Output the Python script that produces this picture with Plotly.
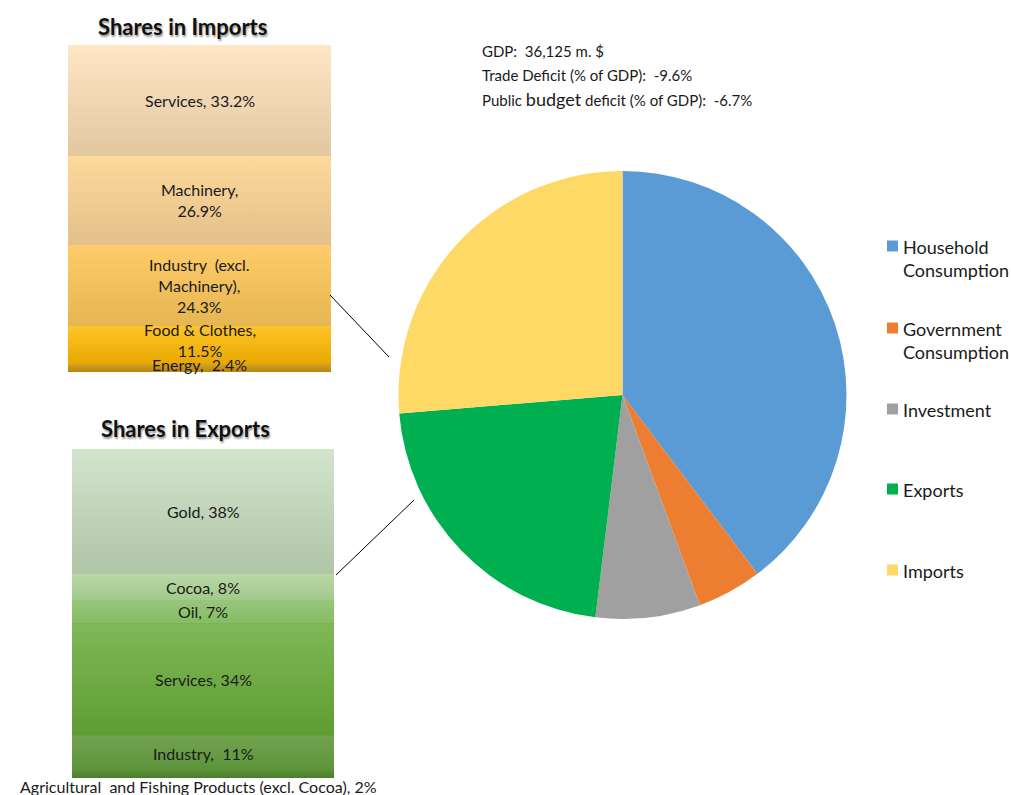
import plotly.graph_objects as go
import numpy as np

# ---------------- data ----------------
pie_labels = ["Household Consumption", "Government Consumption", "Investment", "Exports", "Imports"]
pie_legend_text = ["Household<br>Consumption", "Government<br>Consumption", "Investment", "Exports", "Imports"]
pie_values = [30275, 3560, 5760, 16590, 20060]  # million $
pie_colors = ["#5B9BD5", "#ED7D31", "#A0A0A0", "#00B050", "#FFD966"]

# imports breakdown (bottom -> top)
imp_names = ["Energy", "Food & Clothes", "Industry  (excl.<br>Machinery)", "Machinery", "Services"]
imp_seps = [",  ", ",<br>", ",<br>", ",<br>", ", "]
imp_shares = [2.4, 11.5, 24.3, 26.9, 33.2]
imp_top = ["#D4A125", "#FDC52A", "#FECC6A", "#FED99C", "#FFE6C6"]
imp_bot = ["#B8860F", "#E9A800", "#E6B652", "#E3C08A", "#E2C8A0"]

# exports breakdown (bottom -> top)
exp_names = ["Agricultural  and Fishing Products (excl. Cocoa)", "Industry", "Services", "Oil", "Cocoa",
             "Gold"]
exp_seps = [", ", ",  ", ", ", ", ", ", ", ", "]
exp_shares = [2, 11, 34, 7, 8, 38]
exp_top = ["#568E33", "#72A34F", "#80B858", "#98C67B", "#B8D8A5", "#D3E4CD"]
exp_bot = ["#4B7E2A", "#5C933A", "#5E9D32", "#86BC63", "#A2C98C", "#B0C4A6"]

info_lines = ["GDP:  36,125 m. $",
              "Trade Deficit (% of GDP):  -9.6%",
              "Public <span style='font-size:18px'>budget</span> deficit (% of GDP):  -6.7%"]

FONT = "Lato"
TXT = "#1a1a1a"

fig = go.Figure()

# ---------------- pie ----------------
W, H = 1011, 795
cx, cy, r = 622.5, 395, 224
fig.add_trace(go.Pie(
    labels=pie_labels, values=pie_values, sort=False, direction="clockwise", rotation=0,
    marker=dict(colors=pie_colors, line=dict(width=0)),
    textinfo="none", showlegend=False,
    domain=dict(x=[(cx - r) / W, (cx + r) / W], y=[(H - cy - r) / H, (H - cy + r) / H]),
))


def stacked(names, shares, tops, bots, xa, ya):
    base = np.concatenate([[0], np.cumsum(shares)[:-1]])
    for n, v, b, ct, cb in zip(names, shares, base, tops, bots):
        fig.add_trace(go.Bar(x=[0], y=[v], base=[b], width=1, marker=dict(color=cb, line=dict(width=0)),
                             xaxis=xa, yaxis=ya, showlegend=False, hoverinfo="skip"))
        # gradient overlay of the same segment
        fig.add_trace(go.Scatter(x=[-0.5, 0.5, 0.5, -0.5, -0.5], y=[b, b, b + v, b + v, b],
                                 mode="lines", line=dict(width=0), fill="toself",
                                 fillgradient=dict(type="vertical", colorscale=[[0, cb], [1, ct]]),
                                 xaxis=xa, yaxis=ya, showlegend=False, hoverinfo="skip"))
    return base


ib = stacked(imp_names, imp_shares, imp_top, imp_bot, "x", "y")
eb = stacked(exp_names, exp_shares, exp_top, exp_bot, "x2", "y2")

ann = []
for i, (n, s, v, b) in enumerate(zip(imp_names, imp_seps, imp_shares, ib)):
    a = dict(x=0, y=b + v / 2, xref="x", yref="y", text=f"{n}{s}{v:.1f}%", showarrow=False,
             xanchor="center", yanchor="middle", font=dict(family=FONT, size=16, color=TXT))
    if i == 1:
        a.update(yshift=5)
    if i == 0:
        a.update(yshift=4)
    ann.append(a)
for i, (n, s, v, b) in enumerate(zip(exp_names, exp_seps, exp_shares, eb)):
    a = dict(x=0, y=b + v / 2, xref="x2", yref="y2", text=f"{n}{s}{v}%", showarrow=False,
             xanchor="center", yanchor="middle", font=dict(family=FONT, size=16, color=TXT))
    if i == 0:
        a.update(yshift=-12, xshift=-5)
    ann.append(a)

# titles
for t, xx, yy in [("Shares in Imports", 182, 27), ("Shares in Exports", 185, 428)]:
    ann.append(dict(x=xx / W, y=1 - yy / H, xref="paper", yref="paper", text=f"<b>{t}</b>",
                    xanchor="center", yanchor="middle", showarrow=False,
                    font=dict(family=FONT, size=22, color="#111", shadow="1px 2px 2px #999")))

# info text
for k, t in enumerate(info_lines):
    ann.append(dict(x=480 / W, y=1 - (51 + 24 * k) / H, xref="paper", yref="paper", text=t, xanchor="left",
                    yanchor="middle", showarrow=False, font=dict(family=FONT, size=15, color=TXT)))

# manual legend
shapes = []
leg_y = [246, 328, 409, 489, 570]
for t, c, yy in zip(pie_legend_text, pie_colors, leg_y):
    shapes.append(dict(type="rect", xref="paper", yref="paper", x0=887 / W, x1=898 / W,
                       y0=1 - (yy + 5.5) / H, y1=1 - (yy - 5.5) / H, fillcolor=c, line=dict(width=0)))
    ann.append(dict(x=901 / W, y=1 - (yy - 12) / H, xref="paper", yref="paper", text=t, xanchor="left",
                    yanchor="top", align="left", showarrow=False, font=dict(family=FONT, size=18, color=TXT)))

# connector lines
shapes.append(dict(type="line", xref="paper", yref="paper", x0=330 / W, y0=1 - 295 / H, x1=389 / W, y1=1 - 357 / H,
                   line=dict(color="#000", width=1)))
shapes.append(dict(type="line", xref="paper", yref="paper", x0=336 / W, y0=1 - 575 / H, x1=414 / W, y1=1 - 500 / H,
                   line=dict(color="#000", width=1)))

ax_hidden = dict(visible=False, showgrid=False, zeroline=False, fixedrange=True)
fig.update_layout(
    width=W, height=H, margin=dict(l=0, r=0, t=0, b=0),
    paper_bgcolor="white", plot_bgcolor="rgba(0,0,0,0)",
    barmode="stack", showlegend=False,
    xaxis=dict(domain=[68 / W, 331 / W], range=[-0.5, 0.5], **ax_hidden),
    yaxis=dict(domain=[(H - 372) / H, (H - 45) / H], range=[0, sum(imp_shares)], **ax_hidden),
    xaxis2=dict(domain=[72 / W, 334 / W], range=[-0.5, 0.5], **ax_hidden),
    yaxis2=dict(domain=[(H - 778) / H, (H - 449) / H], range=[0, sum(exp_shares)], **ax_hidden),
    annotations=ann, shapes=shapes,
    font=dict(family=FONT),
)

fig.write_html("out.html", config={"displayModeBar": False},
               post_script="document.body.style.margin='0px';document.body.style.overflow='hidden';")
